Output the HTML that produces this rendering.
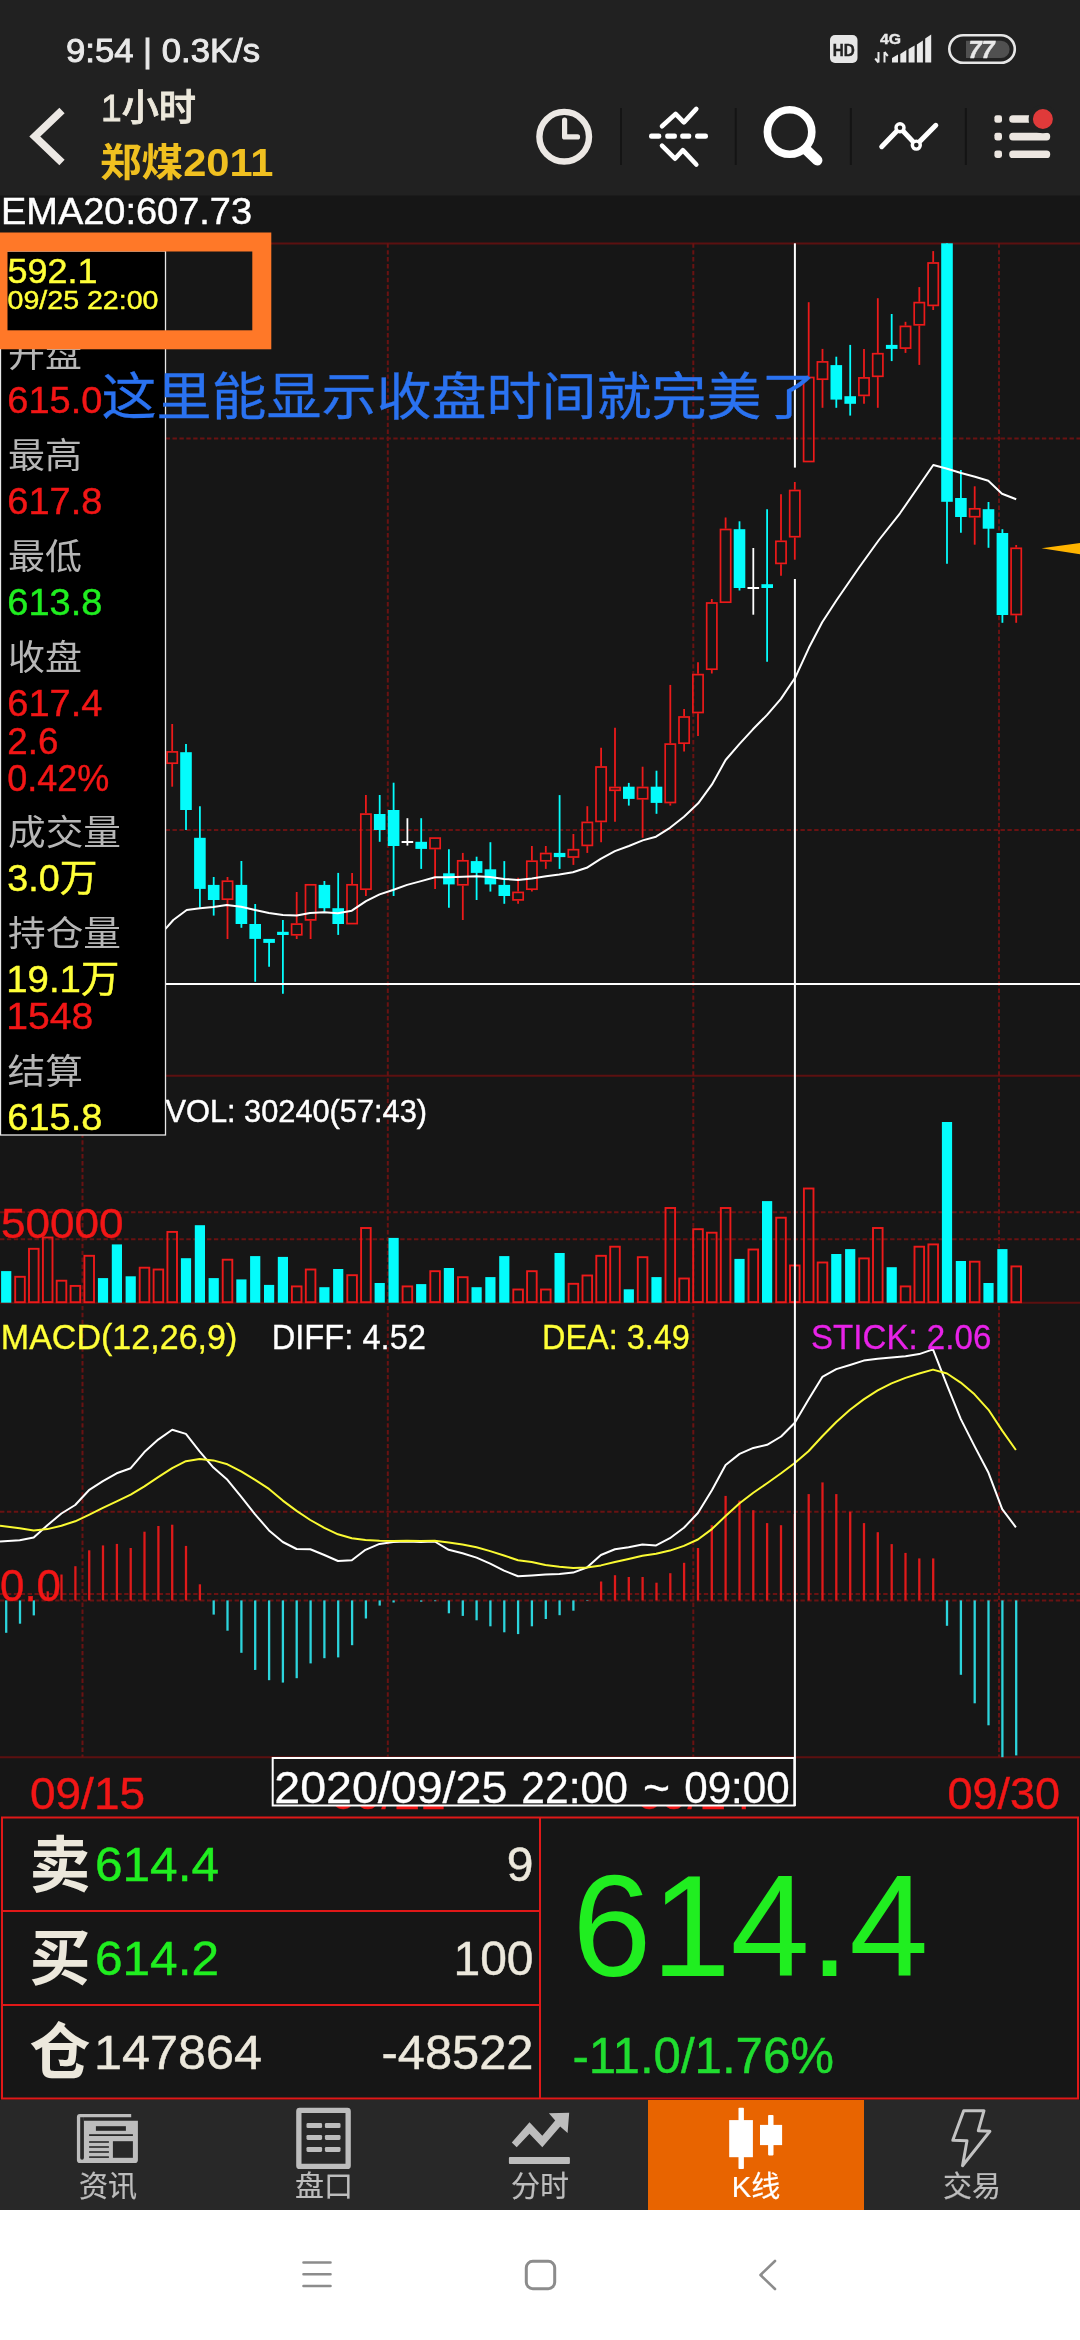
<!DOCTYPE html>
<html><head><meta charset="utf-8"><title>K</title><style>html,body{margin:0;padding:0;background:#161616}svg{display:block}</style></head><body>
<svg width="1080" height="2340" viewBox="0 0 1080 2340" font-family="'Liberation Sans','Noto Sans CJK SC',sans-serif" style="will-change:transform">
<rect width="1080" height="2340" fill="#161616"/>
<rect width="1080" height="195.5" fill="#212121"/>
<g id="status">
<text x="66" y="62" font-size="33" fill="#e9e9e9" stroke="#e9e9e9" stroke-width="0.9" textLength="194" lengthAdjust="spacingAndGlyphs" >9:54 | 0.3K/s</text>
<rect x="830" y="35" width="27.5" height="28" rx="5" fill="#e6e6e6"/>
<text x="843.8" y="56" font-size="17" fill="#222" stroke="#222" stroke-width="0.45" text-anchor="middle" font-weight="bold" textLength="22" lengthAdjust="spacingAndGlyphs" >HD</text>
<text x="880" y="44" font-size="15" fill="#e9e9e9" stroke="#e9e9e9" stroke-width="0.45" font-weight="bold" textLength="21" lengthAdjust="spacingAndGlyphs" >4G</text>
<path d="M878.5 52 v10.5 M878.5 62.5 l-3.3 -4 M884.5 62.5 v-10.5 M884.5 52 l3.3 4" stroke="#e9e9e9" stroke-width="2" fill="none"/>
<path d="M892 62.6 L892 58 L898 54.5 L898 62.6 Z" fill="#e9e9e9"/>
<path d="M900.3 62.6 L900.3 54 L906.3 50 L906.3 62.6 Z" fill="#e9e9e9"/>
<path d="M908.6 62.6 L908.6 49 L914.6 45.5 L914.6 62.6 Z" fill="#e9e9e9"/>
<path d="M916.9 62.6 L916.9 44.5 L922.9 40.5 L922.9 62.6 Z" fill="#e9e9e9"/>
<path d="M925.2 62.6 L925.2 38.5 L931.2 34.5 L931.2 62.6 Z" fill="#e9e9e9"/>
<rect x="949.3" y="35.2" width="65.5" height="27.6" rx="13.8" fill="none" stroke="#e6e6e6" stroke-width="2.6"/>
<path d="M966 40.7 H1001 a8.6 8.6 0 0 1 0 17.2 H966 Z" fill="#505050"/>
<text x="981.5" y="58" font-size="23.5" fill="#e9e9e9" stroke="#e9e9e9" stroke-width="0.45" text-anchor="middle" font-weight="bold" font-style="italic">77</text>
</g>
<g id="header">
<polyline points="62,110.5 34.8,136.5 62,162.5" fill="none" stroke="#ece8e4" stroke-width="7.6"/>
<text x="101" y="121" font-size="37" fill="#ece8dc" stroke="#ece8dc" stroke-width="0.8" font-weight="500" textLength="95" lengthAdjust="spacingAndGlyphs" >1小时</text>
<text x="100" y="176" font-size="39" fill="#f0c020" font-weight="bold" textLength="173.5" lengthAdjust="spacingAndGlyphs" >郑煤2011</text>
<circle cx="564.2" cy="136.7" r="24.8" fill="none" stroke="#ece8e4" stroke-width="6.4"/>
<polyline points="564.6,120 564.6,136.9 577.5,136.9" fill="none" stroke="#ece8e4" stroke-width="5.2" stroke-linecap="round" stroke-linejoin="round"/>
<line x1="621" y1="108" x2="621" y2="165" stroke="#141414" stroke-width="2"/>
<line x1="735.7" y1="108" x2="735.7" y2="165" stroke="#141414" stroke-width="2"/>
<line x1="850.8" y1="108" x2="850.8" y2="165" stroke="#141414" stroke-width="2"/>
<line x1="965.8" y1="108" x2="965.8" y2="165" stroke="#141414" stroke-width="2"/>
<g stroke="#fff" fill="none" stroke-linecap="round" stroke-linejoin="round">
<polyline points="662,126.3 675.6,113.9 683.9,122.4 696.3,108.9" stroke-width="4.6"/>
<polyline points="662,145.7 675,158.7 682.8,150.2 696.3,164.5" stroke-width="4.6"/>
<g fill="#fff" stroke="none"><rect x="649" y="133.6" width="12.3" height="5.2" rx="2.4"/><rect x="665.2" y="133.6" width="11.7" height="5.2" rx="2"/><rect x="680.2" y="133.6" width="11" height="5.2" rx="2"/><rect x="695" y="133.6" width="13" height="5.2" rx="2.4"/></g>
</g>
<circle cx="789.6" cy="132" r="22.2" fill="none" stroke="#fff" stroke-width="7.6"/>
<line x1="806.5" y1="150" x2="817.2" y2="160.3" stroke="#fff" stroke-width="10.5" stroke-linecap="round"/>
<g stroke="#fff" fill="none" stroke-linecap="round" stroke-linejoin="round" stroke-width="5">
<polyline points="881.7,146.7 900,127.8 916.3,145.1 935.8,125.3"/>
<circle cx="900" cy="127.8" r="4" fill="#212121" stroke-width="3.4"/>
<circle cx="916.3" cy="145.1" r="4" fill="#212121" stroke-width="3.4"/>
</g>
<rect x="994.4" y="115.2" width="7.6" height="7.6" rx="2.4" fill="#ece6e0"/>
<rect x="994.4" y="132.8" width="7.6" height="7.6" rx="2.4" fill="#ece6e0"/>
<rect x="994.4" y="150.4" width="7.6" height="7.6" rx="2.4" fill="#ece6e0"/>
<rect x="1009.2" y="115.2" width="24" height="7.6" rx="3.6" fill="#ece6e0"/>
<rect x="1009.2" y="132.8" width="41" height="7.6" rx="3.6" fill="#ece6e0"/>
<rect x="1009.2" y="150.4" width="41" height="7.6" rx="3.6" fill="#ece6e0"/>
<circle cx="1042.9" cy="119" r="14.3" fill="#212121"/>
<circle cx="1042.9" cy="119" r="10" fill="#e03a3a"/>
</g>
<g id="chart">
<text x="1" y="223.8" font-size="36" fill="#fff" stroke="#fff" stroke-width="0.45" textLength="251" lengthAdjust="spacingAndGlyphs" >EMA20:607.73</text>
<g stroke="#691212" stroke-width="2" fill="none">
<g stroke="#5c1010"><line x1="0" y1="243.4" x2="1080" y2="243.4"/>
<line x1="0" y1="1075.7" x2="1080" y2="1075.7"/>
<line x1="0" y1="1302.7" x2="1080" y2="1302.7"/>
<line x1="0" y1="1757.2" x2="1080" y2="1757.2"/></g>
<g stroke-dasharray="4.4 2.5">
<line x1="0" y1="438.6" x2="1080" y2="438.6"/>
<line x1="0" y1="830" x2="1080" y2="830"/>
<line x1="0" y1="1212.3" x2="1080" y2="1212.3"/>
<line x1="0" y1="1239.2" x2="1080" y2="1239.2"/>
<line x1="0" y1="1511.7" x2="1080" y2="1511.7"/>
<line x1="0" y1="1594" x2="1080" y2="1594"/>
<line x1="0" y1="1600.4" x2="1080" y2="1600.4"/>
<line x1="82.5" y1="243.3" x2="82.5" y2="1757.2"/>
<line x1="387.8" y1="243.3" x2="387.8" y2="1757.2"/>
<line x1="693.3" y1="243.3" x2="693.3" y2="1757.2"/>
<line x1="999" y1="243.3" x2="999" y2="1757.2"/>
</g></g>
<line x1="172.2" y1="724" x2="172.2" y2="751.1" stroke="#ec1a1a" stroke-width="1.8"/>
<line x1="172.2" y1="764" x2="172.2" y2="786.7" stroke="#ec1a1a" stroke-width="1.8"/>
<rect x="167.1" y="751.9" width="10.2" height="11.3" fill="none" stroke="#ec1a1a" stroke-width="1.7"/>
<line x1="186.0" y1="744" x2="186.0" y2="830" stroke="#04fcfc" stroke-width="1.8"/>
<rect x="180.2" y="752.2" width="11.6" height="57.8" fill="#04fcfc"/>
<line x1="199.9" y1="806.2" x2="199.9" y2="907.8" stroke="#04fcfc" stroke-width="1.8"/>
<rect x="194.1" y="837.8" width="11.6" height="51.1" fill="#04fcfc"/>
<line x1="213.7" y1="877" x2="213.7" y2="915.6" stroke="#04fcfc" stroke-width="1.8"/>
<rect x="207.9" y="884.9" width="11.6" height="15.1" fill="#04fcfc"/>
<line x1="227.5" y1="877" x2="227.5" y2="880.4" stroke="#ec1a1a" stroke-width="1.8"/>
<line x1="227.5" y1="900" x2="227.5" y2="939" stroke="#ec1a1a" stroke-width="1.8"/>
<rect x="222.4" y="881.2" width="10.2" height="18.0" fill="none" stroke="#ec1a1a" stroke-width="1.7"/>
<line x1="241.4" y1="861" x2="241.4" y2="927.8" stroke="#04fcfc" stroke-width="1.8"/>
<rect x="235.6" y="884.9" width="11.6" height="39.1" fill="#04fcfc"/>
<line x1="255.2" y1="904" x2="255.2" y2="981.8" stroke="#04fcfc" stroke-width="1.8"/>
<rect x="249.4" y="924" width="11.6" height="14.9" fill="#04fcfc"/>
<line x1="269.1" y1="938.9" x2="269.1" y2="966.7" stroke="#04fcfc" stroke-width="1.8"/>
<rect x="263.3" y="938.9" width="11.6" height="4.0" fill="#04fcfc"/>
<line x1="282.9" y1="920" x2="282.9" y2="993.8" stroke="#04fcfc" stroke-width="1.8"/>
<rect x="277.1" y="931.8" width="11.6" height="3.2" fill="#04fcfc"/>
<line x1="296.7" y1="892" x2="296.7" y2="923.3" stroke="#ec1a1a" stroke-width="1.8"/>
<line x1="296.7" y1="935.6" x2="296.7" y2="939" stroke="#ec1a1a" stroke-width="1.8"/>
<rect x="291.6" y="924.1" width="10.2" height="10.7" fill="none" stroke="#ec1a1a" stroke-width="1.7"/>
<line x1="310.6" y1="884" x2="310.6" y2="884" stroke="#ec1a1a" stroke-width="1.8"/>
<line x1="310.6" y1="920.7" x2="310.6" y2="939" stroke="#ec1a1a" stroke-width="1.8"/>
<rect x="305.5" y="884.8" width="10.2" height="35.1" fill="none" stroke="#ec1a1a" stroke-width="1.7"/>
<line x1="324.4" y1="881" x2="324.4" y2="911.8" stroke="#04fcfc" stroke-width="1.8"/>
<rect x="318.6" y="884.9" width="11.6" height="23.3" fill="#04fcfc"/>
<line x1="338.2" y1="872.9" x2="338.2" y2="934.9" stroke="#04fcfc" stroke-width="1.8"/>
<rect x="332.4" y="908.2" width="11.6" height="15.8" fill="#04fcfc"/>
<line x1="352.1" y1="872.9" x2="352.1" y2="884" stroke="#ec1a1a" stroke-width="1.8"/>
<line x1="352.1" y1="924.4" x2="352.1" y2="924.4" stroke="#ec1a1a" stroke-width="1.8"/>
<rect x="347.0" y="884.8" width="10.2" height="38.8" fill="none" stroke="#ec1a1a" stroke-width="1.7"/>
<line x1="365.9" y1="795" x2="365.9" y2="813.3" stroke="#ec1a1a" stroke-width="1.8"/>
<line x1="365.9" y1="890" x2="365.9" y2="896" stroke="#ec1a1a" stroke-width="1.8"/>
<rect x="360.8" y="814.1" width="10.2" height="75.1" fill="none" stroke="#ec1a1a" stroke-width="1.7"/>
<line x1="379.7" y1="795" x2="379.7" y2="841.8" stroke="#04fcfc" stroke-width="1.8"/>
<rect x="373.9" y="814" width="11.6" height="16.0" fill="#04fcfc"/>
<line x1="393.6" y1="782.7" x2="393.6" y2="896" stroke="#04fcfc" stroke-width="1.8"/>
<rect x="387.8" y="810" width="11.6" height="36.0" fill="#04fcfc"/>
<line x1="407.4" y1="818.2" x2="407.4" y2="845.6" stroke="#fff" stroke-width="1.8"/>
<rect x="401.6" y="841" width="11.6" height="2.0" fill="#fff"/>
<line x1="421.2" y1="818.2" x2="421.2" y2="868.9" stroke="#04fcfc" stroke-width="1.8"/>
<rect x="415.4" y="841.8" width="11.6" height="7.1" fill="#04fcfc"/>
<line x1="435.1" y1="837.3" x2="435.1" y2="837.3" stroke="#ec1a1a" stroke-width="1.8"/>
<line x1="435.1" y1="849.3" x2="435.1" y2="888.9" stroke="#ec1a1a" stroke-width="1.8"/>
<rect x="430.0" y="838.1" width="10.2" height="10.4" fill="none" stroke="#ec1a1a" stroke-width="1.7"/>
<line x1="448.9" y1="849.3" x2="448.9" y2="907.8" stroke="#04fcfc" stroke-width="1.8"/>
<rect x="443.1" y="873.3" width="11.6" height="11.1" fill="#04fcfc"/>
<line x1="462.8" y1="852.9" x2="462.8" y2="860" stroke="#ec1a1a" stroke-width="1.8"/>
<line x1="462.8" y1="885.6" x2="462.8" y2="920" stroke="#ec1a1a" stroke-width="1.8"/>
<rect x="457.7" y="860.8" width="10.2" height="24.0" fill="none" stroke="#ec1a1a" stroke-width="1.7"/>
<line x1="476.6" y1="856.7" x2="476.6" y2="900" stroke="#04fcfc" stroke-width="1.8"/>
<rect x="470.8" y="861.1" width="11.6" height="11.8" fill="#04fcfc"/>
<line x1="490.4" y1="842.2" x2="490.4" y2="891.6" stroke="#04fcfc" stroke-width="1.8"/>
<rect x="484.6" y="869.3" width="11.6" height="15.1" fill="#04fcfc"/>
<line x1="504.3" y1="861.1" x2="504.3" y2="903.8" stroke="#04fcfc" stroke-width="1.8"/>
<rect x="498.5" y="884.9" width="11.6" height="11.1" fill="#04fcfc"/>
<line x1="518.1" y1="877.8" x2="518.1" y2="891.6" stroke="#ec1a1a" stroke-width="1.8"/>
<line x1="518.1" y1="900.7" x2="518.1" y2="903.8" stroke="#ec1a1a" stroke-width="1.8"/>
<rect x="513.0" y="892.4" width="10.2" height="7.5" fill="none" stroke="#ec1a1a" stroke-width="1.7"/>
<line x1="531.9" y1="846" x2="531.9" y2="860.4" stroke="#ec1a1a" stroke-width="1.8"/>
<line x1="531.9" y1="890" x2="531.9" y2="891.6" stroke="#ec1a1a" stroke-width="1.8"/>
<rect x="526.8" y="861.2" width="10.2" height="28.0" fill="none" stroke="#ec1a1a" stroke-width="1.7"/>
<line x1="545.8" y1="846" x2="545.8" y2="852.7" stroke="#ec1a1a" stroke-width="1.8"/>
<line x1="545.8" y1="861.6" x2="545.8" y2="868.9" stroke="#ec1a1a" stroke-width="1.8"/>
<rect x="540.7" y="853.5" width="10.2" height="7.3" fill="none" stroke="#ec1a1a" stroke-width="1.7"/>
<line x1="559.6" y1="795.1" x2="559.6" y2="868.9" stroke="#04fcfc" stroke-width="1.8"/>
<rect x="553.8" y="852.9" width="11.6" height="4.2" fill="#04fcfc"/>
<line x1="573.4" y1="834" x2="573.4" y2="848.9" stroke="#ec1a1a" stroke-width="1.8"/>
<line x1="573.4" y1="857.8" x2="573.4" y2="864.9" stroke="#ec1a1a" stroke-width="1.8"/>
<rect x="568.3" y="849.7" width="10.2" height="7.3" fill="none" stroke="#ec1a1a" stroke-width="1.7"/>
<line x1="587.3" y1="806.2" x2="587.3" y2="821.6" stroke="#ec1a1a" stroke-width="1.8"/>
<line x1="587.3" y1="846.2" x2="587.3" y2="852.9" stroke="#ec1a1a" stroke-width="1.8"/>
<rect x="582.2" y="822.4" width="10.2" height="23.0" fill="none" stroke="#ec1a1a" stroke-width="1.7"/>
<line x1="601.1" y1="747.8" x2="601.1" y2="766.2" stroke="#ec1a1a" stroke-width="1.8"/>
<line x1="601.1" y1="822.2" x2="601.1" y2="842.2" stroke="#ec1a1a" stroke-width="1.8"/>
<rect x="596.0" y="767.0" width="10.2" height="54.4" fill="none" stroke="#ec1a1a" stroke-width="1.7"/>
<line x1="615.0" y1="727.8" x2="615.0" y2="786.7" stroke="#ec1a1a" stroke-width="1.8"/>
<line x1="615.0" y1="791.1" x2="615.0" y2="821.8" stroke="#ec1a1a" stroke-width="1.8"/>
<rect x="609.9" y="787.5" width="10.2" height="2.8" fill="none" stroke="#ec1a1a" stroke-width="1.7"/>
<line x1="628.8" y1="782.9" x2="628.8" y2="805.6" stroke="#04fcfc" stroke-width="1.8"/>
<rect x="623.0" y="786.7" width="11.6" height="12.2" fill="#04fcfc"/>
<line x1="642.6" y1="766.7" x2="642.6" y2="786.7" stroke="#ec1a1a" stroke-width="1.8"/>
<line x1="642.6" y1="799.6" x2="642.6" y2="837.8" stroke="#ec1a1a" stroke-width="1.8"/>
<rect x="637.5" y="787.5" width="10.2" height="11.3" fill="none" stroke="#ec1a1a" stroke-width="1.7"/>
<line x1="656.5" y1="770.7" x2="656.5" y2="813.8" stroke="#04fcfc" stroke-width="1.8"/>
<rect x="650.7" y="786.7" width="11.6" height="16.2" fill="#04fcfc"/>
<line x1="670.3" y1="684.9" x2="670.3" y2="743.3" stroke="#ec1a1a" stroke-width="1.8"/>
<line x1="670.3" y1="803.3" x2="670.3" y2="805.6" stroke="#ec1a1a" stroke-width="1.8"/>
<rect x="665.2" y="744.1" width="10.2" height="58.4" fill="none" stroke="#ec1a1a" stroke-width="1.7"/>
<line x1="684.1" y1="708.9" x2="684.1" y2="716.2" stroke="#ec1a1a" stroke-width="1.8"/>
<line x1="684.1" y1="744" x2="684.1" y2="751.6" stroke="#ec1a1a" stroke-width="1.8"/>
<rect x="679.0" y="717.0" width="10.2" height="26.2" fill="none" stroke="#ec1a1a" stroke-width="1.7"/>
<line x1="698.0" y1="662.2" x2="698.0" y2="673.8" stroke="#ec1a1a" stroke-width="1.8"/>
<line x1="698.0" y1="713.3" x2="698.0" y2="736" stroke="#ec1a1a" stroke-width="1.8"/>
<rect x="692.9" y="674.6" width="10.2" height="37.9" fill="none" stroke="#ec1a1a" stroke-width="1.7"/>
<line x1="711.8" y1="599" x2="711.8" y2="602.2" stroke="#ec1a1a" stroke-width="1.8"/>
<line x1="711.8" y1="670" x2="711.8" y2="673.5" stroke="#ec1a1a" stroke-width="1.8"/>
<rect x="706.7" y="603.0" width="10.2" height="66.2" fill="none" stroke="#ec1a1a" stroke-width="1.7"/>
<line x1="725.6" y1="517.5" x2="725.6" y2="528.7" stroke="#ec1a1a" stroke-width="1.8"/>
<line x1="725.6" y1="603" x2="725.6" y2="603" stroke="#ec1a1a" stroke-width="1.8"/>
<rect x="720.5" y="529.5" width="10.2" height="72.7" fill="none" stroke="#ec1a1a" stroke-width="1.7"/>
<line x1="739.5" y1="521.3" x2="739.5" y2="590.5" stroke="#04fcfc" stroke-width="1.8"/>
<rect x="733.7" y="529.2" width="11.6" height="58.8" fill="#04fcfc"/>
<line x1="753.3" y1="548" x2="753.3" y2="614.7" stroke="#fff" stroke-width="1.8"/>
<rect x="747.5" y="587" width="11.6" height="2.0" fill="#fff"/>
<line x1="767.1" y1="509.2" x2="767.1" y2="661.7" stroke="#04fcfc" stroke-width="1.8"/>
<rect x="761.4" y="584.2" width="11.6" height="3.8" fill="#04fcfc"/>
<line x1="781.0" y1="494.2" x2="781.0" y2="540.5" stroke="#ec1a1a" stroke-width="1.8"/>
<line x1="781.0" y1="564.2" x2="781.0" y2="575.8" stroke="#ec1a1a" stroke-width="1.8"/>
<rect x="775.9" y="541.3" width="10.2" height="22.1" fill="none" stroke="#ec1a1a" stroke-width="1.7"/>
<line x1="794.8" y1="482" x2="794.8" y2="489.7" stroke="#ec1a1a" stroke-width="1.8"/>
<line x1="794.8" y1="537.5" x2="794.8" y2="559.7" stroke="#ec1a1a" stroke-width="1.8"/>
<rect x="789.7" y="490.5" width="10.2" height="46.2" fill="none" stroke="#ec1a1a" stroke-width="1.7"/>
<line x1="808.7" y1="302.2" x2="808.7" y2="376.7" stroke="#ec1a1a" stroke-width="1.8"/>
<line x1="808.7" y1="462.3" x2="808.7" y2="462.3" stroke="#ec1a1a" stroke-width="1.8"/>
<rect x="803.6" y="377.5" width="10.2" height="84.0" fill="none" stroke="#ec1a1a" stroke-width="1.7"/>
<line x1="822.5" y1="348.9" x2="822.5" y2="361.1" stroke="#ec1a1a" stroke-width="1.8"/>
<line x1="822.5" y1="380" x2="822.5" y2="407.8" stroke="#ec1a1a" stroke-width="1.8"/>
<rect x="817.4" y="361.9" width="10.2" height="17.3" fill="none" stroke="#ec1a1a" stroke-width="1.7"/>
<line x1="836.3" y1="356.7" x2="836.3" y2="407.8" stroke="#04fcfc" stroke-width="1.8"/>
<rect x="830.5" y="365.1" width="11.6" height="34.5" fill="#04fcfc"/>
<line x1="850.2" y1="344.9" x2="850.2" y2="415.6" stroke="#04fcfc" stroke-width="1.8"/>
<rect x="844.4" y="396.2" width="11.6" height="7.6" fill="#04fcfc"/>
<line x1="864.0" y1="348.9" x2="864.0" y2="377.1" stroke="#ec1a1a" stroke-width="1.8"/>
<line x1="864.0" y1="396.2" x2="864.0" y2="403.8" stroke="#ec1a1a" stroke-width="1.8"/>
<rect x="858.9" y="377.9" width="10.2" height="17.5" fill="none" stroke="#ec1a1a" stroke-width="1.7"/>
<line x1="877.8" y1="298.2" x2="877.8" y2="352.9" stroke="#ec1a1a" stroke-width="1.8"/>
<line x1="877.8" y1="377.1" x2="877.8" y2="407.8" stroke="#ec1a1a" stroke-width="1.8"/>
<rect x="872.7" y="353.7" width="10.2" height="22.6" fill="none" stroke="#ec1a1a" stroke-width="1.7"/>
<line x1="891.7" y1="314" x2="891.7" y2="361.1" stroke="#04fcfc" stroke-width="1.8"/>
<rect x="885.9" y="344.9" width="11.6" height="4.0" fill="#04fcfc"/>
<line x1="905.5" y1="321.8" x2="905.5" y2="325.6" stroke="#ec1a1a" stroke-width="1.8"/>
<line x1="905.5" y1="348.9" x2="905.5" y2="352.9" stroke="#ec1a1a" stroke-width="1.8"/>
<rect x="900.4" y="326.4" width="10.2" height="21.7" fill="none" stroke="#ec1a1a" stroke-width="1.7"/>
<line x1="919.3" y1="287.1" x2="919.3" y2="301.8" stroke="#ec1a1a" stroke-width="1.8"/>
<line x1="919.3" y1="325.6" x2="919.3" y2="364.9" stroke="#ec1a1a" stroke-width="1.8"/>
<rect x="914.2" y="302.6" width="10.2" height="22.2" fill="none" stroke="#ec1a1a" stroke-width="1.7"/>
<line x1="933.2" y1="251.1" x2="933.2" y2="262.2" stroke="#ec1a1a" stroke-width="1.8"/>
<line x1="933.2" y1="306.2" x2="933.2" y2="310" stroke="#ec1a1a" stroke-width="1.8"/>
<rect x="928.1" y="263.0" width="10.2" height="42.4" fill="none" stroke="#ec1a1a" stroke-width="1.7"/>
<line x1="947.0" y1="243.3" x2="947.0" y2="563.7" stroke="#04fcfc" stroke-width="1.8"/>
<rect x="941.2" y="243.3" width="11.6" height="258.5" fill="#04fcfc"/>
<line x1="960.9" y1="470" x2="960.9" y2="532.8" stroke="#04fcfc" stroke-width="1.8"/>
<rect x="955.1" y="498" width="11.6" height="19.0" fill="#04fcfc"/>
<line x1="974.7" y1="486.3" x2="974.7" y2="508" stroke="#ec1a1a" stroke-width="1.8"/>
<line x1="974.7" y1="517.5" x2="974.7" y2="544.7" stroke="#ec1a1a" stroke-width="1.8"/>
<rect x="969.6" y="508.8" width="10.2" height="7.9" fill="none" stroke="#ec1a1a" stroke-width="1.7"/>
<line x1="988.5" y1="502" x2="988.5" y2="547.8" stroke="#04fcfc" stroke-width="1.8"/>
<rect x="982.7" y="509.2" width="11.6" height="19.5" fill="#04fcfc"/>
<line x1="1002.4" y1="529.2" x2="1002.4" y2="622.8" stroke="#04fcfc" stroke-width="1.8"/>
<rect x="996.6" y="533" width="11.6" height="82.0" fill="#04fcfc"/>
<line x1="1016.2" y1="545" x2="1016.2" y2="547.5" stroke="#ec1a1a" stroke-width="1.8"/>
<line x1="1016.2" y1="615.3" x2="1016.2" y2="622.8" stroke="#ec1a1a" stroke-width="1.8"/>
<rect x="1011.1" y="548.3" width="10.2" height="66.2" fill="none" stroke="#ec1a1a" stroke-width="1.7"/>
<polyline points="165.5,928.9 173.3,920.0 186.7,910.0 200.0,908.2 213.3,907.1 226.7,904.9 241.1,906.7 255.1,910.0 268.9,912.9 282.9,914.9 296.7,915.6 310.0,912.9 324.0,912.2 337.8,913.3 351.8,910.7 366.0,901.1 379.6,894.4 392.9,890.0 407.1,884.9 421.1,881.1 435.1,877.3 448.9,877.3 462.9,876.7 476.2,876.2 490.0,877.1 504.0,878.9 518.0,880.0 531.8,878.4 546.0,876.2 559.3,874.4 572.9,872.2 586.7,867.8 600.7,858.9 614.9,851.1 628.9,846.0 642.7,840.4 656.0,836.7 670.0,827.8 684.0,816.7 698.2,803.3 712.0,784.4 725.6,760.0 739.1,744.4 752.9,729.3 767.1,714.9 780.9,698.9 795.1,677.8 808.9,647.8 822.2,622.2 836.7,600.0 858.9,567.8 878.9,540.0 900.0,513.3 933.3,465.0 947.2,468.7 961.0,473.0 975.0,476.7 988.3,480.8 1002.0,493.7 1016.2,499.2" fill="none" stroke="#fff" stroke-width="2" stroke-linejoin="round" />
<path d="M1041.5 548.3 L1080 543 L1080 554.2 Z" fill="#ffb400"/>
<rect x="1.1" y="1271.1" width="10.2" height="31.6" fill="#04fcfc"/>
<rect x="15.2" y="1276.8" width="9.6" height="25.4" fill="none" stroke="#ec1a1a" stroke-width="1.9"/>
<rect x="29.0" y="1248.8" width="9.6" height="53.4" fill="none" stroke="#ec1a1a" stroke-width="1.9"/>
<rect x="42.9" y="1237.5" width="9.6" height="64.6" fill="none" stroke="#ec1a1a" stroke-width="1.9"/>
<rect x="56.7" y="1280.7" width="9.6" height="21.5" fill="none" stroke="#ec1a1a" stroke-width="1.9"/>
<rect x="70.6" y="1285.9" width="9.6" height="16.3" fill="none" stroke="#ec1a1a" stroke-width="1.9"/>
<rect x="84.4" y="1255.8" width="9.6" height="46.4" fill="none" stroke="#ec1a1a" stroke-width="1.9"/>
<rect x="97.9" y="1278.1" width="10.2" height="24.6" fill="#04fcfc"/>
<rect x="111.8" y="1244.4" width="10.2" height="58.3" fill="#04fcfc"/>
<rect x="125.6" y="1276.3" width="10.2" height="26.4" fill="#04fcfc"/>
<rect x="139.7" y="1267.7" width="9.6" height="34.5" fill="none" stroke="#ec1a1a" stroke-width="1.9"/>
<rect x="153.6" y="1269.5" width="9.6" height="32.7" fill="none" stroke="#ec1a1a" stroke-width="1.9"/>
<rect x="167.4" y="1231.9" width="9.6" height="70.3" fill="none" stroke="#ec1a1a" stroke-width="1.9"/>
<rect x="180.9" y="1258.2" width="10.2" height="44.5" fill="#04fcfc"/>
<rect x="194.8" y="1225.2" width="10.2" height="77.5" fill="#04fcfc"/>
<rect x="208.6" y="1278.1" width="10.2" height="24.6" fill="#04fcfc"/>
<rect x="222.7" y="1259.7" width="9.6" height="42.5" fill="none" stroke="#ec1a1a" stroke-width="1.9"/>
<rect x="236.3" y="1279.4" width="10.2" height="23.3" fill="#04fcfc"/>
<rect x="250.1" y="1256.1" width="10.2" height="46.6" fill="#04fcfc"/>
<rect x="264.0" y="1284.9" width="10.2" height="17.8" fill="#04fcfc"/>
<rect x="277.8" y="1256.9" width="10.2" height="45.8" fill="#04fcfc"/>
<rect x="291.9" y="1286.4" width="9.6" height="15.8" fill="none" stroke="#ec1a1a" stroke-width="1.9"/>
<rect x="305.8" y="1269.5" width="9.6" height="32.7" fill="none" stroke="#ec1a1a" stroke-width="1.9"/>
<rect x="319.3" y="1287.2" width="10.2" height="15.5" fill="#04fcfc"/>
<rect x="333.1" y="1269" width="10.2" height="33.7" fill="#04fcfc"/>
<rect x="347.3" y="1275.2" width="9.6" height="27.0" fill="none" stroke="#ec1a1a" stroke-width="1.9"/>
<rect x="361.1" y="1228.0" width="9.6" height="74.2" fill="none" stroke="#ec1a1a" stroke-width="1.9"/>
<rect x="374.6" y="1283" width="10.2" height="19.7" fill="#04fcfc"/>
<rect x="388.5" y="1237.9" width="10.2" height="64.8" fill="#04fcfc"/>
<rect x="402.6" y="1286.4" width="9.6" height="15.8" fill="none" stroke="#ec1a1a" stroke-width="1.9"/>
<rect x="416.1" y="1284.1" width="10.2" height="18.6" fill="#04fcfc"/>
<rect x="430.3" y="1271.2" width="9.6" height="30.9" fill="none" stroke="#ec1a1a" stroke-width="1.9"/>
<rect x="443.8" y="1268" width="10.2" height="34.7" fill="#04fcfc"/>
<rect x="458.0" y="1277.2" width="9.6" height="24.9" fill="none" stroke="#ec1a1a" stroke-width="1.9"/>
<rect x="471.5" y="1287.2" width="10.2" height="15.5" fill="#04fcfc"/>
<rect x="485.3" y="1277.1" width="10.2" height="25.6" fill="#04fcfc"/>
<rect x="499.2" y="1256.1" width="10.2" height="46.6" fill="#04fcfc"/>
<rect x="513.3" y="1289.5" width="9.6" height="12.7" fill="none" stroke="#ec1a1a" stroke-width="1.9"/>
<rect x="527.1" y="1271.2" width="9.6" height="30.9" fill="none" stroke="#ec1a1a" stroke-width="1.9"/>
<rect x="541.0" y="1289.5" width="9.6" height="12.7" fill="none" stroke="#ec1a1a" stroke-width="1.9"/>
<rect x="554.5" y="1253" width="10.2" height="49.7" fill="#04fcfc"/>
<rect x="568.6" y="1283.8" width="9.6" height="18.4" fill="none" stroke="#ec1a1a" stroke-width="1.9"/>
<rect x="582.5" y="1275.5" width="9.6" height="26.7" fill="none" stroke="#ec1a1a" stroke-width="1.9"/>
<rect x="596.3" y="1255.8" width="9.6" height="46.4" fill="none" stroke="#ec1a1a" stroke-width="1.9"/>
<rect x="610.2" y="1246.7" width="9.6" height="55.5" fill="none" stroke="#ec1a1a" stroke-width="1.9"/>
<rect x="623.7" y="1289.3" width="10.2" height="13.4" fill="#04fcfc"/>
<rect x="637.8" y="1257.2" width="9.6" height="44.9" fill="none" stroke="#ec1a1a" stroke-width="1.9"/>
<rect x="651.4" y="1277.1" width="10.2" height="25.6" fill="#04fcfc"/>
<rect x="665.5" y="1208.0" width="9.6" height="94.1" fill="none" stroke="#ec1a1a" stroke-width="1.9"/>
<rect x="679.3" y="1278.5" width="9.6" height="23.6" fill="none" stroke="#ec1a1a" stroke-width="1.9"/>
<rect x="693.2" y="1229.2" width="9.6" height="72.9" fill="none" stroke="#ec1a1a" stroke-width="1.9"/>
<rect x="707.0" y="1232.7" width="9.6" height="69.5" fill="none" stroke="#ec1a1a" stroke-width="1.9"/>
<rect x="720.8" y="1208.0" width="9.6" height="94.1" fill="none" stroke="#ec1a1a" stroke-width="1.9"/>
<rect x="734.4" y="1258.9" width="10.2" height="43.8" fill="#04fcfc"/>
<rect x="748.5" y="1249.5" width="9.6" height="52.6" fill="none" stroke="#ec1a1a" stroke-width="1.9"/>
<rect x="762.0" y="1201.1" width="10.2" height="101.6" fill="#04fcfc"/>
<rect x="776.2" y="1217.7" width="9.6" height="84.5" fill="none" stroke="#ec1a1a" stroke-width="1.9"/>
<rect x="790.0" y="1265.5" width="9.6" height="36.6" fill="none" stroke="#ec1a1a" stroke-width="1.9"/>
<rect x="803.9" y="1188.5" width="9.6" height="113.6" fill="none" stroke="#ec1a1a" stroke-width="1.9"/>
<rect x="817.7" y="1262.5" width="9.6" height="39.7" fill="none" stroke="#ec1a1a" stroke-width="1.9"/>
<rect x="831.2" y="1254" width="10.2" height="48.7" fill="#04fcfc"/>
<rect x="845.1" y="1249.1" width="10.2" height="53.6" fill="#04fcfc"/>
<rect x="859.2" y="1258.4" width="9.6" height="43.8" fill="none" stroke="#ec1a1a" stroke-width="1.9"/>
<rect x="873.0" y="1228.0" width="9.6" height="74.2" fill="none" stroke="#ec1a1a" stroke-width="1.9"/>
<rect x="886.6" y="1267.2" width="10.2" height="35.5" fill="#04fcfc"/>
<rect x="900.7" y="1286.4" width="9.6" height="15.8" fill="none" stroke="#ec1a1a" stroke-width="1.9"/>
<rect x="914.5" y="1246.7" width="9.6" height="55.5" fill="none" stroke="#ec1a1a" stroke-width="1.9"/>
<rect x="928.4" y="1244.4" width="9.6" height="57.8" fill="none" stroke="#ec1a1a" stroke-width="1.9"/>
<rect x="941.9" y="1122" width="10.2" height="180.7" fill="#04fcfc"/>
<rect x="955.8" y="1261" width="10.2" height="41.7" fill="#04fcfc"/>
<rect x="969.9" y="1261.7" width="9.6" height="40.5" fill="none" stroke="#ec1a1a" stroke-width="1.9"/>
<rect x="983.4" y="1283" width="10.2" height="19.7" fill="#04fcfc"/>
<rect x="997.3" y="1249.1" width="10.2" height="53.6" fill="#04fcfc"/>
<rect x="1011.4" y="1266.4" width="9.6" height="35.8" fill="none" stroke="#ec1a1a" stroke-width="1.9"/>
<line x1="6.2" y1="1600.4" x2="6.2" y2="1632.8" stroke="#2cd4dc" stroke-width="2.3"/>
<line x1="20.0" y1="1600.4" x2="20.0" y2="1623.7" stroke="#2cd4dc" stroke-width="2.3"/>
<line x1="33.8" y1="1600.4" x2="33.8" y2="1615.4" stroke="#2cd4dc" stroke-width="2.3"/>
<line x1="47.7" y1="1600.4" x2="47.7" y2="1591.3" stroke="#de1a1a" stroke-width="2.3"/>
<line x1="61.5" y1="1600.4" x2="61.5" y2="1574.5" stroke="#de1a1a" stroke-width="2.3"/>
<line x1="75.4" y1="1600.4" x2="75.4" y2="1566.2" stroke="#de1a1a" stroke-width="2.3"/>
<line x1="89.2" y1="1600.4" x2="89.2" y2="1550.3" stroke="#de1a1a" stroke-width="2.3"/>
<line x1="103.0" y1="1600.4" x2="103.0" y2="1545.4" stroke="#de1a1a" stroke-width="2.3"/>
<line x1="116.9" y1="1600.4" x2="116.9" y2="1543.9" stroke="#de1a1a" stroke-width="2.3"/>
<line x1="130.7" y1="1600.4" x2="130.7" y2="1548" stroke="#de1a1a" stroke-width="2.3"/>
<line x1="144.5" y1="1600.4" x2="144.5" y2="1531.7" stroke="#de1a1a" stroke-width="2.3"/>
<line x1="158.4" y1="1600.4" x2="158.4" y2="1526" stroke="#de1a1a" stroke-width="2.3"/>
<line x1="172.2" y1="1600.4" x2="172.2" y2="1524.7" stroke="#de1a1a" stroke-width="2.3"/>
<line x1="186.0" y1="1600.4" x2="186.0" y2="1545.9" stroke="#de1a1a" stroke-width="2.3"/>
<line x1="199.9" y1="1600.4" x2="199.9" y2="1584.3" stroke="#de1a1a" stroke-width="2.3"/>
<line x1="213.7" y1="1600.4" x2="213.7" y2="1614.6" stroke="#2cd4dc" stroke-width="2.3"/>
<line x1="227.5" y1="1600.4" x2="227.5" y2="1630.7" stroke="#2cd4dc" stroke-width="2.3"/>
<line x1="241.4" y1="1600.4" x2="241.4" y2="1652.8" stroke="#2cd4dc" stroke-width="2.3"/>
<line x1="255.2" y1="1600.4" x2="255.2" y2="1669.9" stroke="#2cd4dc" stroke-width="2.3"/>
<line x1="269.1" y1="1600.4" x2="269.1" y2="1680.2" stroke="#2cd4dc" stroke-width="2.3"/>
<line x1="282.9" y1="1600.4" x2="282.9" y2="1682.6" stroke="#2cd4dc" stroke-width="2.3"/>
<line x1="296.7" y1="1600.4" x2="296.7" y2="1678.2" stroke="#2cd4dc" stroke-width="2.3"/>
<line x1="310.6" y1="1600.4" x2="310.6" y2="1663.4" stroke="#2cd4dc" stroke-width="2.3"/>
<line x1="324.4" y1="1600.4" x2="324.4" y2="1658.2" stroke="#2cd4dc" stroke-width="2.3"/>
<line x1="338.2" y1="1600.4" x2="338.2" y2="1657.4" stroke="#2cd4dc" stroke-width="2.3"/>
<line x1="352.1" y1="1600.4" x2="352.1" y2="1645.2" stroke="#2cd4dc" stroke-width="2.3"/>
<line x1="365.9" y1="1600.4" x2="365.9" y2="1618.5" stroke="#2cd4dc" stroke-width="2.3"/>
<line x1="379.7" y1="1600.4" x2="379.7" y2="1605.6" stroke="#2cd4dc" stroke-width="2.3"/>
<line x1="393.6" y1="1600.4" x2="393.6" y2="1602.5" stroke="#2cd4dc" stroke-width="2.3"/>
<line x1="421.2" y1="1600.4" x2="421.2" y2="1601.7" stroke="#2cd4dc" stroke-width="2.3"/>
<line x1="435.1" y1="1600.4" x2="435.1" y2="1601.2" stroke="#2cd4dc" stroke-width="2.3"/>
<line x1="448.9" y1="1600.4" x2="448.9" y2="1613.3" stroke="#2cd4dc" stroke-width="2.3"/>
<line x1="462.8" y1="1600.4" x2="462.8" y2="1615.9" stroke="#2cd4dc" stroke-width="2.3"/>
<line x1="476.6" y1="1600.4" x2="476.6" y2="1620.3" stroke="#2cd4dc" stroke-width="2.3"/>
<line x1="490.4" y1="1600.4" x2="490.4" y2="1626.3" stroke="#2cd4dc" stroke-width="2.3"/>
<line x1="504.3" y1="1600.4" x2="504.3" y2="1632.3" stroke="#2cd4dc" stroke-width="2.3"/>
<line x1="518.1" y1="1600.4" x2="518.1" y2="1634.1" stroke="#2cd4dc" stroke-width="2.3"/>
<line x1="531.9" y1="1600.4" x2="531.9" y2="1626.3" stroke="#2cd4dc" stroke-width="2.3"/>
<line x1="545.8" y1="1600.4" x2="545.8" y2="1619" stroke="#2cd4dc" stroke-width="2.3"/>
<line x1="559.6" y1="1600.4" x2="559.6" y2="1615.2" stroke="#2cd4dc" stroke-width="2.3"/>
<line x1="573.4" y1="1600.4" x2="573.4" y2="1610.7" stroke="#2cd4dc" stroke-width="2.3"/>
<line x1="587.3" y1="1600.4" x2="587.3" y2="1600.9" stroke="#2cd4dc" stroke-width="2.3"/>
<line x1="601.1" y1="1600.4" x2="601.1" y2="1581.5" stroke="#de1a1a" stroke-width="2.3"/>
<line x1="615.0" y1="1600.4" x2="615.0" y2="1575.2" stroke="#de1a1a" stroke-width="2.3"/>
<line x1="628.8" y1="1600.4" x2="628.8" y2="1577" stroke="#de1a1a" stroke-width="2.3"/>
<line x1="642.6" y1="1600.4" x2="642.6" y2="1577" stroke="#de1a1a" stroke-width="2.3"/>
<line x1="656.5" y1="1600.4" x2="656.5" y2="1582.7" stroke="#de1a1a" stroke-width="2.3"/>
<line x1="670.3" y1="1600.4" x2="670.3" y2="1573.2" stroke="#de1a1a" stroke-width="2.3"/>
<line x1="684.1" y1="1600.4" x2="684.1" y2="1562.8" stroke="#de1a1a" stroke-width="2.3"/>
<line x1="698.0" y1="1600.4" x2="698.0" y2="1548" stroke="#de1a1a" stroke-width="2.3"/>
<line x1="711.8" y1="1600.4" x2="711.8" y2="1525.2" stroke="#de1a1a" stroke-width="2.3"/>
<line x1="725.6" y1="1600.4" x2="725.6" y2="1495.9" stroke="#de1a1a" stroke-width="2.3"/>
<line x1="739.5" y1="1600.4" x2="739.5" y2="1500.6" stroke="#de1a1a" stroke-width="2.3"/>
<line x1="753.3" y1="1600.4" x2="753.3" y2="1510.2" stroke="#de1a1a" stroke-width="2.3"/>
<line x1="767.1" y1="1600.4" x2="767.1" y2="1523.1" stroke="#de1a1a" stroke-width="2.3"/>
<line x1="781.0" y1="1600.4" x2="781.0" y2="1525.2" stroke="#de1a1a" stroke-width="2.3"/>
<line x1="794.8" y1="1600.4" x2="794.8" y2="1514" stroke="#de1a1a" stroke-width="2.3"/>
<line x1="808.7" y1="1600.4" x2="808.7" y2="1494.1" stroke="#de1a1a" stroke-width="2.3"/>
<line x1="822.5" y1="1600.4" x2="822.5" y2="1482.4" stroke="#de1a1a" stroke-width="2.3"/>
<line x1="836.3" y1="1600.4" x2="836.3" y2="1494.1" stroke="#de1a1a" stroke-width="2.3"/>
<line x1="850.2" y1="1600.4" x2="850.2" y2="1511.7" stroke="#de1a1a" stroke-width="2.3"/>
<line x1="864.0" y1="1600.4" x2="864.0" y2="1523.1" stroke="#de1a1a" stroke-width="2.3"/>
<line x1="877.8" y1="1600.4" x2="877.8" y2="1532.2" stroke="#de1a1a" stroke-width="2.3"/>
<line x1="891.7" y1="1600.4" x2="891.7" y2="1544.1" stroke="#de1a1a" stroke-width="2.3"/>
<line x1="905.5" y1="1600.4" x2="905.5" y2="1552.9" stroke="#de1a1a" stroke-width="2.3"/>
<line x1="919.3" y1="1600.4" x2="919.3" y2="1558.4" stroke="#de1a1a" stroke-width="2.3"/>
<line x1="933.2" y1="1600.4" x2="933.2" y2="1558.4" stroke="#de1a1a" stroke-width="2.3"/>
<line x1="947.0" y1="1600.4" x2="947.0" y2="1625.8" stroke="#2cd4dc" stroke-width="2.3"/>
<line x1="960.9" y1="1600.4" x2="960.9" y2="1674.8" stroke="#2cd4dc" stroke-width="2.3"/>
<line x1="974.7" y1="1600.4" x2="974.7" y2="1703.3" stroke="#2cd4dc" stroke-width="2.3"/>
<line x1="988.5" y1="1600.4" x2="988.5" y2="1725.3" stroke="#2cd4dc" stroke-width="2.3"/>
<line x1="1002.4" y1="1600.4" x2="1002.4" y2="1757.2" stroke="#2cd4dc" stroke-width="2.3"/>
<line x1="1016.2" y1="1600.4" x2="1016.2" y2="1755.4" stroke="#2cd4dc" stroke-width="2.3"/>
<polyline points="0.0,1541.5 19.7,1540.2 33.7,1537.6 47.4,1525.2 61.4,1513.5 75.2,1505.0 88.9,1490.2 102.9,1481.1 116.7,1473.3 130.7,1468.2 144.4,1452.1 158.2,1439.6 172.2,1429.8 185.9,1433.9 199.6,1451.3 213.4,1467.6 227.4,1479.8 241.1,1496.7 255.1,1514.3 269.0,1530.4 282.8,1542.0 296.6,1549.0 310.3,1549.3 324.3,1555.0 338.0,1561.0 351.8,1560.2 365.5,1549.8 379.5,1543.9 393.3,1542.0 407.0,1541.5 420.7,1542.0 434.7,1541.5 448.7,1549.8 462.5,1553.2 476.5,1557.6 490.2,1563.6 504.0,1570.6 518.0,1576.3 531.7,1575.5 545.4,1574.5 559.4,1573.9 573.2,1572.6 586.9,1567.5 600.9,1555.0 614.9,1549.3 628.6,1547.2 642.4,1544.6 656.1,1545.4 669.9,1538.2 683.9,1527.8 697.9,1513.0 711.9,1490.2 725.6,1465.0 739.6,1453.9 753.3,1447.9 767.1,1444.8 781.1,1436.5 794.8,1422.8 808.5,1399.4 822.3,1376.9 836.3,1369.1 850.0,1365.0 863.7,1360.6 877.7,1358.7 891.5,1357.4 905.5,1356.2 919.2,1354.1 933.0,1349.4 947.0,1385.2 960.7,1418.9 974.5,1446.1 988.5,1472.8 1002.2,1509.1 1015.9,1527.3" fill="none" stroke="#fff" stroke-width="2" stroke-linejoin="round" />
<polyline points="0.0,1525.7 19.7,1528.3 33.7,1530.4 47.4,1529.1 61.4,1525.7 75.2,1521.3 88.9,1514.8 102.9,1507.8 116.7,1501.3 130.7,1494.6 144.4,1486.3 158.2,1477.2 172.2,1468.2 185.9,1461.2 199.6,1459.1 213.4,1460.4 227.4,1464.3 241.1,1471.3 255.1,1479.8 269.0,1488.9 282.8,1500.6 296.6,1510.9 310.3,1520.0 324.3,1527.8 338.0,1534.3 351.8,1538.2 365.5,1540.0 379.5,1540.8 393.3,1541.0 407.0,1540.8 420.7,1541.0 434.7,1540.8 448.7,1542.6 462.5,1544.6 476.5,1547.2 490.2,1551.1 504.0,1555.5 518.0,1560.2 531.7,1562.0 545.4,1564.9 559.4,1566.7 573.2,1568.0 586.9,1567.5 600.9,1565.4 614.9,1562.0 628.6,1558.9 642.4,1555.8 656.1,1553.7 669.9,1550.6 683.9,1545.9 697.9,1539.5 711.9,1529.1 725.6,1516.1 739.6,1503.2 753.3,1492.8 767.1,1483.2 781.1,1473.3 794.8,1463.0 808.5,1451.3 822.3,1436.3 836.3,1422.0 850.0,1409.8 863.7,1399.4 877.7,1390.4 891.5,1383.4 905.5,1377.9 919.2,1373.5 933.0,1369.6 947.0,1373.5 960.7,1382.6 974.5,1394.3 988.5,1409.8 1002.2,1430.6 1015.9,1450.0" fill="none" stroke="#fafa32" stroke-width="2" stroke-linejoin="round" />
<g stroke="#fff" stroke-width="2">
<line x1="794.9" y1="243.3" x2="794.9" y2="467.6"/>
<line x1="794.9" y1="579" x2="794.9" y2="1806"/>
<line x1="165.5" y1="984" x2="1080" y2="984"/>
</g>
<text x="165.5" y="1121.5" font-size="31" fill="#fff" stroke="#fff" stroke-width="0.45" textLength="261.5" lengthAdjust="spacingAndGlyphs" >VOL: 30240(57:43)</text>
<text x="1" y="1237.8" font-size="43" fill="#f21616" stroke="#f21616" stroke-width="0.45" textLength="122.5" lengthAdjust="spacingAndGlyphs" >50000</text>
<text x="0.8" y="1348.9" font-size="35" fill="#ffff38" stroke="#ffff38" stroke-width="0.3" textLength="236.5" lengthAdjust="spacingAndGlyphs" >MACD(12,26,9)</text>
<text x="271.7" y="1348.9" font-size="35" fill="#fff" stroke="#fff" stroke-width="0.3" textLength="154.3" lengthAdjust="spacingAndGlyphs" >DIFF: 4.52</text>
<text x="542" y="1348.9" font-size="35" fill="#ffff38" stroke="#ffff38" stroke-width="0.3" textLength="147.8" lengthAdjust="spacingAndGlyphs" >DEA: 3.49</text>
<text x="811" y="1348.9" font-size="35" fill="#e822e8" stroke="#e822e8" stroke-width="0.3" textLength="180.3" lengthAdjust="spacingAndGlyphs" >STICK: 2.06</text>
<text x="0" y="1600.8" font-size="45" fill="#f21616" stroke="#f21616" stroke-width="0.45" textLength="61" lengthAdjust="spacingAndGlyphs" >0.0</text>
<text x="30" y="1809" font-size="44" fill="#f21616" stroke="#f21616" stroke-width="0.45" textLength="115" lengthAdjust="spacingAndGlyphs" >09/15</text>
<text x="388" y="1809" font-size="44" fill="#f21616" stroke="#f21616" stroke-width="0.45" text-anchor="middle" textLength="115" lengthAdjust="spacingAndGlyphs" >09/21</text>
<text x="694" y="1809" font-size="44" fill="#f21616" stroke="#f21616" stroke-width="0.45" text-anchor="middle" textLength="115" lengthAdjust="spacingAndGlyphs" >09/24</text>
<text x="947.5" y="1809" font-size="44" fill="#f21616" stroke="#f21616" stroke-width="0.45" textLength="112.5" lengthAdjust="spacingAndGlyphs" >09/30</text>
<rect x="272.7" y="1758" width="521.6" height="47.5" fill="#161616" stroke="#fff" stroke-width="2"/>
<text x="274.3" y="1802.5" font-size="44" fill="#fff" stroke="#fff" stroke-width="0.3" textLength="233" lengthAdjust="spacingAndGlyphs" >2020/09/25</text>
<text x="521.3" y="1802.5" font-size="44" fill="#fff" stroke="#fff" stroke-width="0.3" textLength="106.5" lengthAdjust="spacingAndGlyphs" >22:00</text>
<text x="643" y="1802.5" font-size="44" fill="#fff" stroke="#fff" stroke-width="0.3" textLength="27" lengthAdjust="spacingAndGlyphs" >~</text>
<text x="684.2" y="1802.5" font-size="44" fill="#fff" stroke="#fff" stroke-width="0.3" textLength="105.5" lengthAdjust="spacingAndGlyphs" >09:00</text>
</g>
<g id="panel">
<rect x="0.5" y="251" width="165" height="884" fill="#000" stroke="#e8e8e8" stroke-width="1.3"/>
<text x="7.5" y="282.8" font-size="35" fill="#ffff38" stroke="#ffff38" stroke-width="0.45" textLength="90" lengthAdjust="spacingAndGlyphs" >592.1</text>
<text x="7.5" y="309" font-size="26.5" fill="#ffff38" stroke="#ffff38" stroke-width="0.45" textLength="151" lengthAdjust="spacingAndGlyphs" >09/25 22:00</text>
<text x="8" y="367.3" font-size="35" fill="#b6b6b6" textLength="74" lengthAdjust="spacingAndGlyphs" >开盘</text>
<text x="8" y="468.1" font-size="35" fill="#b6b6b6" textLength="74" lengthAdjust="spacingAndGlyphs" >最高</text>
<text x="8" y="568.9" font-size="35" fill="#b6b6b6" textLength="74" lengthAdjust="spacingAndGlyphs" >最低</text>
<text x="8" y="669.8" font-size="35" fill="#b6b6b6" textLength="74" lengthAdjust="spacingAndGlyphs" >收盘</text>
<text x="8" y="844.8" font-size="35" fill="#b6b6b6" textLength="113" lengthAdjust="spacingAndGlyphs" >成交量</text>
<text x="8" y="945.8" font-size="35" fill="#b6b6b6" textLength="113" lengthAdjust="spacingAndGlyphs" >持仓量</text>
<text x="7.5" y="1084.3" font-size="35" fill="#b6b6b6" textLength="75.5" lengthAdjust="spacingAndGlyphs" >结算</text>
<text x="7.3" y="412.9" font-size="37.5" fill="#f21616" stroke="#f21616" stroke-width="0.45" textLength="95" lengthAdjust="spacingAndGlyphs" >615.0</text>
<text x="7.3" y="513.6999999999999" font-size="37.5" fill="#f21616" stroke="#f21616" stroke-width="0.45" textLength="95" lengthAdjust="spacingAndGlyphs" >617.8</text>
<text x="7.3" y="614.6" font-size="37.5" fill="#20ee20" stroke="#20ee20" stroke-width="0.45" textLength="95" lengthAdjust="spacingAndGlyphs" >613.8</text>
<text x="7.3" y="716.1999999999999" font-size="37.5" fill="#f21616" stroke="#f21616" stroke-width="0.45" textLength="95" lengthAdjust="spacingAndGlyphs" >617.4</text>
<text x="7.3" y="753.6999999999999" font-size="37.5" fill="#f21616" stroke="#f21616" stroke-width="0.45" textLength="51" lengthAdjust="spacingAndGlyphs" >2.6</text>
<text x="7.3" y="791.1999999999999" font-size="37.5" fill="#f21616" stroke="#f21616" stroke-width="0.45" textLength="102" lengthAdjust="spacingAndGlyphs" >0.42%</text>
<text x="6.3" y="1028.9" font-size="37.5" fill="#f21616" stroke="#f21616" stroke-width="0.45" textLength="87" lengthAdjust="spacingAndGlyphs" >1548</text>
<text x="7.3" y="1129.7" font-size="37.5" fill="#ffff38" stroke="#ffff38" stroke-width="0.45" textLength="95" lengthAdjust="spacingAndGlyphs" >615.8</text>
<text x="7.3" y="891.4" font-size="37.5" fill="#ffff38" stroke="#ffff38" stroke-width="0.45" textLength="90" lengthAdjust="spacingAndGlyphs" >3.0万</text>
<text x="6.3" y="992" font-size="37.5" fill="#ffff38" stroke="#ffff38" stroke-width="0.45" textLength="113" lengthAdjust="spacingAndGlyphs" >19.1万</text>
</g>
<rect x="-2" y="242" width="263.8" height="97.8" fill="none" stroke="#ff7828" stroke-width="19"/>
<text x="101.5" y="414.6" font-size="51.5" fill="#2a72f0" stroke="#2a72f0" stroke-width="0.3" textLength="715" lengthAdjust="spacingAndGlyphs" >这里能显示收盘时间就完美了</text>
<g id="quote">
<g stroke="#e01818" stroke-width="2" fill="none">
<rect x="2" y="1817.5" width="1076" height="281"/>
<line x1="540" y1="1817.5" x2="540" y2="2098.5"/>
<line x1="2" y1="1911" x2="540" y2="1911"/>
<line x1="2" y1="2005" x2="540" y2="2005"/>
</g>
<text x="29.5" y="1886.5" font-size="61" fill="#ece8dc" font-weight="bold" >卖</text>
<text x="29.5" y="1980" font-size="61" fill="#ece8dc" font-weight="bold" >买</text>
<text x="29.5" y="2073.5" font-size="61" fill="#ece8dc" font-weight="bold" >仓</text>
<text x="95" y="1881" font-size="48" fill="#20ee20" stroke="#20ee20" stroke-width="0.45" textLength="124" lengthAdjust="spacingAndGlyphs" >614.4</text>
<text x="95" y="1974.5" font-size="48" fill="#20ee20" stroke="#20ee20" stroke-width="0.45" textLength="124" lengthAdjust="spacingAndGlyphs" >614.2</text>
<text x="94" y="2068.5" font-size="48" fill="#ece8dc" stroke="#ece8dc" stroke-width="0.45" textLength="168" lengthAdjust="spacingAndGlyphs" >147864</text>
<text x="533.5" y="1881" font-size="48" fill="#ece8dc" stroke="#ece8dc" stroke-width="0.45" text-anchor="end" >9</text>
<text x="533.5" y="1974.5" font-size="48" fill="#ece8dc" stroke="#ece8dc" stroke-width="0.45" text-anchor="end" textLength="80" lengthAdjust="spacingAndGlyphs" >100</text>
<text x="533.5" y="2068.5" font-size="48" fill="#ece8dc" stroke="#ece8dc" stroke-width="0.45" text-anchor="end" textLength="152" lengthAdjust="spacingAndGlyphs" >-48522</text>
<text x="572.3" y="1976" font-size="144" fill="#20ee20" textLength="356" lengthAdjust="spacingAndGlyphs" >614.4</text>
<text x="572.5" y="2072.5" font-size="50.5" fill="#20dd30" stroke="#20dd30" stroke-width="0.45" textLength="261.5" lengthAdjust="spacingAndGlyphs" >-11.0/1.76%</text>
</g>
<g id="nav">
<rect x="0" y="2100" width="1080" height="110" fill="#282828"/>
<rect x="648" y="2100" width="216" height="110" fill="#e86400"/>
<rect x="0" y="2210" width="1080" height="130" fill="#fff"/>
<text x="108" y="2197" font-size="29" fill="#bdbdbd" stroke="#bdbdbd" stroke-width="0.2" text-anchor="middle" >资讯</text>
<text x="324" y="2197" font-size="29" fill="#bdbdbd" stroke="#bdbdbd" stroke-width="0.2" text-anchor="middle" >盘口</text>
<text x="540" y="2197" font-size="29" fill="#bdbdbd" stroke="#bdbdbd" stroke-width="0.2" text-anchor="middle" >分时</text>
<text x="756" y="2197" font-size="29" fill="#fff" stroke="#fff" stroke-width="0.2" text-anchor="middle" >K线</text>
<text x="972" y="2197" font-size="29" fill="#bdbdbd" stroke="#bdbdbd" stroke-width="0.2" text-anchor="middle" >交易</text>
<path d="M79.9 2114 H131.2 V2117.2 H84 V2163.1 H80 a3.1 3.1 0 0 1 -3.1 -3.1 V2117 a3 3 0 0 1 3 -3 Z" fill="#bdbdbd"/>
<path d="M83.9 2120.7 H137.9 V2160 a3.1 3.1 0 0 1 -3.1 3.1 H83.9 Z" fill="#bdbdbd"/>
<path d="M80.2 2117.2 H83.9 V2157.8 a1.85 1.85 0 0 1 -3.7 0 Z" fill="#282828"/>
<g fill="#282828"><rect x="95.9" y="2126.2" width="30" height="4.6"/><rect x="89.1" y="2134.2" width="43.8" height="1.8"/><rect x="89.1" y="2141.2" width="19.8" height="1.6"/><rect x="89.1" y="2146.2" width="19.8" height="1.6"/><rect x="89.1" y="2151.2" width="19.8" height="1.6"/><rect x="89.1" y="2156.3" width="19.8" height="1.6"/><rect x="112.9" y="2141.2" width="20" height="16.6"/></g>
<rect x="298.85" y="2110.45" width="49.3" height="56" rx="0.8" fill="none" stroke="#bdbdbd" stroke-width="5.3"/>
<rect x="306.5" y="2123.1" width="15.6" height="4.9" rx="1.3" fill="#bdbdbd"/><rect x="324.9" y="2123.1" width="15.6" height="4.9" rx="1.3" fill="#bdbdbd"/>
<rect x="306.5" y="2135" width="15.6" height="4.9" rx="1.3" fill="#bdbdbd"/><rect x="324.9" y="2135" width="15.6" height="4.9" rx="1.3" fill="#bdbdbd"/>
<rect x="306.5" y="2147" width="15.6" height="4.9" rx="1.3" fill="#bdbdbd"/><rect x="324.9" y="2147" width="15.6" height="4.9" rx="1.3" fill="#bdbdbd"/>
<rect x="508.9" y="2156.9" width="61" height="7" rx="1" fill="#bdbdbd"/>
<path d="M511.8 2142.4 L529.5 2122.2 L542.3 2135.8 L555.2 2120.6 L548.9 2113.2 L569.2 2112.8 L567.6 2133.1 L560.2 2126.4 L542.3 2147.3 L529.5 2133.8 L516.7 2147.3 Z" fill="#bdbdbd"/>
<g fill="#fff"><rect x="729.2" y="2120.1" width="23.7" height="37.1"/><rect x="738.5" y="2107.8" width="5.4" height="61.3" rx="0.8"/><rect x="760" y="2124.9" width="22.1" height="20.2"/><rect x="768.1" y="2114.9" width="5.4" height="40.5" rx="0.8"/></g>
<path d="M963.7 2110.7 H984 L978.3 2130.7 L989.9 2131.3 L962.5 2165.7 L967 2140.7 L952.8 2140.3 Z" fill="none" stroke="#c2c2c2" stroke-width="3" stroke-linejoin="round"/>
<g stroke="#8c8c8c" fill="none" stroke-width="2.6" stroke-linecap="round"><path d="M303.5 2262.5 H330.5 M303.5 2274.2 H330.5 M303.5 2286 H330.5"/><rect x="526.3" y="2261.3" width="28.4" height="27.4" rx="6.5" stroke-width="3"/><polyline points="775,2261 760.5,2275 775,2289" stroke-linejoin="round"/></g>
</g>
</svg>
</body></html>
